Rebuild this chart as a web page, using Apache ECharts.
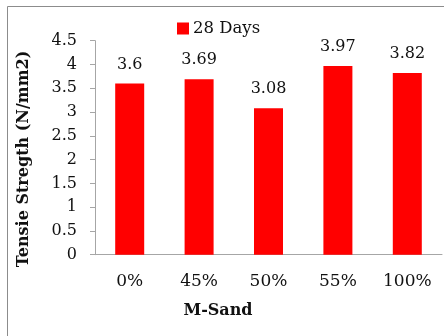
<!DOCTYPE html>
<html>
<head>
<meta charset="utf-8">
<script src="https://cdn.jsdelivr.net/npm/echarts@6/dist/echarts.min.js"></script>
<style>
  html, body { margin: 0; padding: 0; background: #fff; }
  #chart { width: 444px; height: 336px; }
</style>
</head>
<body>
<div id="chart"></div>
<script>
// M-Sand replacement levels and 28-day tensile strength (N/mm2)
const categories = ['0%', '45%', '50%', '55%', '100%'];
const strength28 = [3.6, 3.69, 3.08, 3.97, 3.82];
const seriesName = '28 Days';
const yTicks = { min: 0, max: 4.5, interval: 0.5 };

const serif = 'DejaVu Serif';
const chart = echarts.init(document.getElementById('chart'), null, { renderer: 'canvas' });

chart.setOption({
  backgroundColor: '#ffffff',
  animation: false,
  grid: { left: 95, right: 2, top: 40.7, bottom: 81.3, containLabel: false },
  legend: {
    data: [seriesName],
    left: 177, top: 20, padding: 0,
    itemWidth: 12, itemHeight: 12, itemGap: 4,
    icon: 'rect',
    textStyle: { fontFamily: serif, fontSize: 16.5, color: '#111', padding: [0, 0, 0, -1] }
  },
  xAxis: {
    type: 'category',
    data: categories,
    axisLine: { lineStyle: { color: '#a6a6a6', width: 1 } },
    axisTick: { show: false },
    axisLabel: { margin: 18, fontFamily: serif, fontSize: 17, color: '#111' }
  },
  yAxis: {
    type: 'value',
    min: yTicks.min, max: yTicks.max, interval: yTicks.interval,
    axisLine: { show: true, lineStyle: { color: '#a6a6a6', width: 1 } },
    axisTick: { show: true, length: 5, lineStyle: { color: '#a6a6a6' } },
    splitLine: { show: false },
    axisLabel: { margin: 18, fontFamily: serif, fontSize: 16, color: '#111' }
  },
  series: [{
    name: seriesName,
    type: 'bar',
    data: strength28,
    barWidth: 29,
    itemStyle: { color: '#ff0000' },
    label: {
      show: true, position: 'top', distance: 11,
      fontFamily: serif, fontSize: 16, color: '#111'
    }
  }],
  graphic: [
    {
      type: 'rect', silent: true,
      shape: { x: 7.5, y: 6.5, width: 460, height: 360 },
      style: { fill: 'none', stroke: '#8c8c8c', lineWidth: 1 }
    },
    {
      type: 'text', x: 24, y: 159, rotation: Math.PI / 2,
      style: {
        text: 'Tensie Stregth (N/mm2)',
        fontFamily: serif, fontWeight: 'bold', fontSize: 16,
        fill: '#111', align: 'center', verticalAlign: 'middle'
      }
    },
    {
      type: 'text', x: 218, y: 311,
      style: {
        text: 'M-Sand',
        fontFamily: serif, fontWeight: 'bold', fontSize: 16,
        fill: '#111', align: 'center', verticalAlign: 'middle'
      }
    }
  ]
});
</script>
</body>
</html>
